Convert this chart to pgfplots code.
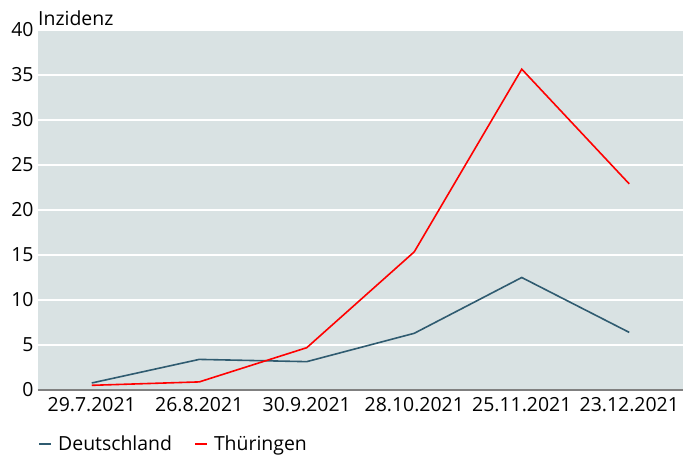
\documentclass[border=0pt]{standalone}
\usepackage{pgfplots}
\pgfplotsset{compat=1.18}
\usepackage{fontspec}
\setmainfont{Open Sans}
\definecolor{bgc}{HTML}{D9E2E3}
\definecolor{de}{HTML}{2F5B70}
\definecolor{th}{HTML}{FF0000}
\begin{document}
\begin{tikzpicture}[x=1bp,y=1bp]
\useasboundingbox (-38bp,-67bp) rectangle (653bp,390bp);
\begin{axis}[
  at={(0,0)}, anchor=south west,
  width=645bp, height=360bp, scale only axis,
  xmin=-0.5, xmax=5.5, ymin=0, ymax=40,
  ytick={0,5,...,40},
  xtick={0,...,5},
  xticklabels={29.7.2021,26.8.2021,30.9.2021,28.10.2021,25.11.2021,23.12.2021},
  axis background/.style={fill=bgc},
  ymajorgrids, grid style={white, line width=1.3bp},
  axis x line*=bottom, axis y line*=left,
  y axis line style={draw=none},
  x axis line style={draw=gray, line width=1.5bp, -},
  major tick length=0pt,
  tick label style={font=\fontsize{19.5}{19.5}\selectfont, text=black},
  /pgf/number format/assume math mode=true,
  yticklabel style={xshift=-1bp},
  xticklabel style={yshift=-4bp},
  legend style={at={(0,-0.115)}, anchor=north west, draw=none, fill=white,
    font=\fontsize{19.5}{19.5}\selectfont, legend columns=2,
    /tikz/every even column/.append style={column sep=20bp},
    inner xsep=0pt},
  legend image code/.code={\draw[#1, line width=2bp] (0bp,0bp) -- (12bp,0bp);},
  clip=false,
]
\addplot[de, line width=1.6bp] coordinates {(0,0.78) (1,3.4) (2,3.15) (3,6.3) (4,12.5) (5,6.4)};
\addlegendentry{\hspace{4bp}Deutschland}
\addplot[th, line width=1.6bp] coordinates {(0,0.52) (1,0.9) (2,4.7) (3,15.35) (4,35.65) (5,22.9)};
\addlegendentry{\hspace{4bp}Thüringen}
\node[anchor=south west, inner sep=0pt, font=\fontsize{19.5}{19.5}\selectfont] at (rel axis cs:0,1) [yshift=4bp] {Inzidenz};
\end{axis}
\end{tikzpicture}
\end{document}
